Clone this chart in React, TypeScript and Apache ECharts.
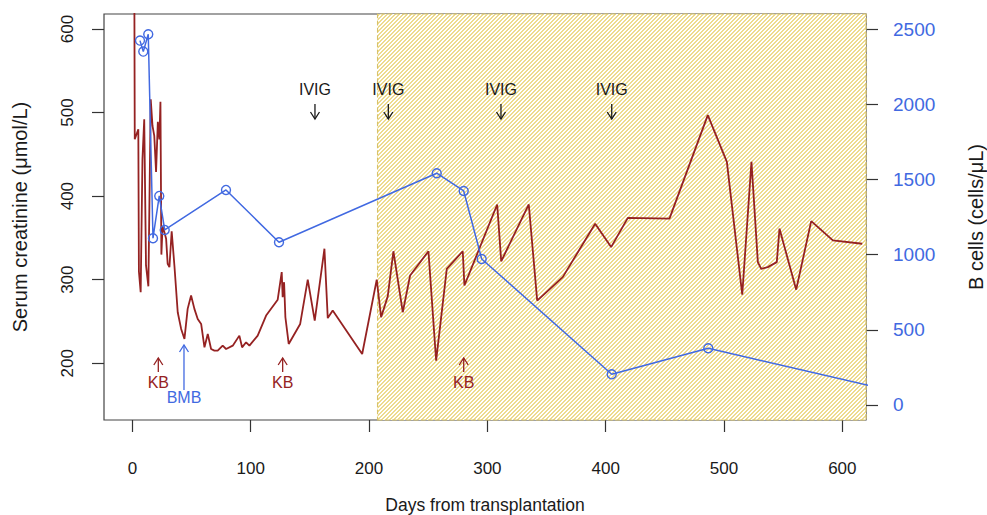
import React, { useEffect, useRef } from "react";
import * as echarts from "echarts";

// Serum creatinine (µmol/L) by day from transplantation
const creatinineDays = [1.5, 2, 5, 5.5, 7, 8.5, 10, 11.5, 13.5, 15.5, 17, 18.5, 20, 21.5, 22.8, 23.7, 24.5, 25.5, 27, 28.5, 29.8, 31.3, 33.2, 35.5, 38.3, 41.2, 44, 46.7, 49.6, 52.4, 55.2, 58.1, 60.9, 63.7, 66.5, 69.3, 72.1, 76.3, 79.2, 84.8, 90.4, 92.7, 96.1, 98.9, 105.9, 113, 122.8, 126.2, 127, 128.2, 129.3, 132.1, 141.8, 148.2, 154.1, 162.3, 165.1, 169.3, 194.2, 206.5, 210.2, 215.8, 220.6, 228.5, 234.7, 250.2, 256.7, 265.7, 279.2, 280.6, 308.3, 311.7, 335, 342.1, 363.7, 391.1, 404.6, 418.7, 453.9, 486.3, 502.4, 515.4, 523.2, 528.6, 531.4, 537, 544.6, 546.9, 561, 573.7, 592, 616.8];
const creatinineValues = [720, 468, 480, 310, 285, 444, 492, 317, 292, 516, 484, 472, 429, 489, 468, 513, 330, 364, 357, 349, 319, 315, 358, 317, 261, 241, 229, 265, 281, 265, 253, 247, 219, 235, 217, 215, 215, 221, 217, 221, 233, 219, 225, 221, 233, 257, 276, 309, 279, 297, 255, 223, 247, 300, 251, 337, 254, 263, 211, 300, 255, 280, 334, 261, 305, 334, 203, 313, 334, 293, 390, 322, 390, 275, 303, 367, 339, 374, 373, 497, 441, 282, 441, 321, 313, 315, 321, 361, 288, 370, 347, 343];

// B cells (cells/µL)
const bcellDays = [6.4, 9.2, 13.4, 17.4, 22.7, 27.3, 79.1, 123.9, 257.2, 280, 295.2, 405.1, 486.7, 650];
const bcellValues = [2423, 2350, 2465, 1109, 1390, 1164, 1430, 1082, 1541, 1423, 971, 204, 377, 80];

// Axis ticks
const xTicks = [0, 100, 200, 300, 400, 500, 600];
const leftTicks = [200, 300, 400, 500, 600];
const rightTicks = [0, 500, 1000, 1500, 2000, 2500];

// Events (days)
const ivigDays = [154.3, 216.3, 311.5, 405.1];
const kbDays = [21.9, 127, 280];
const bmbDays = [43.6];
const hatchStartDay = 207.2;

const RED = "#952222";
const BLUE = "#4169E1";
const INK = "#1a1a1a";
const SANS = '"Liberation Sans", Arial, sans-serif';

function makeHatch(): HTMLCanvasElement {
  const c = document.createElement("canvas");
  c.width = 4;
  c.height = 4;
  const ctx = c.getContext("2d")!;
  ctx.fillStyle = "#ffffff";
  ctx.fillRect(0, 0, 4, 4);
  ctx.fillStyle = "#eedb8e";
  for (let x = 0; x < 4; x++) {
    for (let y = 0; y < 4; y++) {
      if ((x + y) % 4 < 2) ctx.fillRect(x, y, 1, 1);
    }
  }
  return c;
}

export default function App() {
  const ref = useRef<HTMLDivElement>(null);

  useEffect(() => {
    document.body.style.margin = "0";
    const chart = echarts.init(ref.current!, undefined, { renderer: "svg" });

    const plain = (v: number) => String(v);
    const tickStyle = { color: "#333", width: 1.2 };

    const option: any = {
      animation: false,
      backgroundColor: "#ffffff",
      textStyle: { fontFamily: SANS },
      grid: {
        left: 104,
        right: 121,
        top: 14,
        bottom: 95,
        containLabel: false,
        outerBoundsMode: "none",
        show: true,
        borderColor: "#444",
        borderWidth: 1.2,
        backgroundColor: "#ffffff",
      },
      xAxis: {
        type: "value",
        position: "bottom",
        min: -24,
        max: 620,
        axisLine: { show: false, onZero: false },
        splitLine: { show: false },
        axisTick: { show: true, inside: false, customValues: xTicks, length: 12, lineStyle: tickStyle },
        axisLabel: { customValues: xTicks, formatter: plain, margin: 40, fontSize: 17, color: INK },
        name: "Days from transplantation",
        nameLocation: "middle",
        nameGap: 76,
        nameTextStyle: { fontSize: 17.5, color: INK },
      },
      yAxis: [
        {
          type: "value",
          position: "left",
          min: 132,
          max: 618,
          axisLine: { show: false, onZero: false },
          splitLine: { show: false },
          axisTick: { show: true, inside: false, customValues: leftTicks, length: 12, lineStyle: tickStyle },
          axisLabel: { customValues: leftTicks, formatter: plain, rotate: 90, margin: 28, fontSize: 17, color: INK },
          name: "Serum creatinine (μmol/L)",
          nameLocation: "middle",
          nameGap: 74,
          nameTextStyle: { fontSize: 20, color: INK },
        },
        {
          type: "value",
          position: "right",
          min: -100,
          max: 2600,
          axisLine: { show: false, onZero: false },
          splitLine: { show: false },
          axisTick: { show: true, inside: false, customValues: rightTicks, length: 12, lineStyle: tickStyle },
          axisLabel: { customValues: rightTicks, formatter: plain, margin: 27, fontSize: 19, color: BLUE },
          name: "B cells (cells/μL)",
          nameLocation: "middle",
          nameGap: 100,
          nameRotate: 90,
          nameTextStyle: { fontSize: 20, color: INK },
        },
      ],
      series: [
        {
          type: "line",
          name: "hatch",
          data: [],
          z: 1,
          silent: true,
          markArea: {
            silent: true,
            itemStyle: {
              color: { image: makeHatch(), repeat: "repeat" },
              borderColor: "#d8c36a",
              borderWidth: 1.2,
              borderType: "dashed",
            },
            data: [[{ xAxis: hatchStartDay }, { xAxis: 620 }]],
          },
        },
        {
          type: "line",
          name: "Serum creatinine",
          yAxisIndex: 0,
          z: 3,
          showSymbol: false,
          symbol: "none",
          clip: true,
          lineStyle: { color: RED, width: 1.8 },
          data: creatinineDays.map((d, i) => [d, creatinineValues[i]]),
        },
        {
          type: "line",
          name: "B cells",
          yAxisIndex: 1,
          z: 4,
          clip: true,
          symbol: "circle",
          symbolSize: 9,
          lineStyle: { color: BLUE, width: 1.5 },
          itemStyle: { color: "rgba(0,0,0,0)", borderColor: BLUE, borderWidth: 1.4 },
          data: bcellDays.map((d, i) => [d, bcellValues[i]]),
        },
      ],
    };
    chart.setOption(option);

    const px = (d: number, v: number) =>
      chart.convertToPixel({ xAxisIndex: 0, yAxisIndex: 0 }, [d, v]) as number[];

    const graphics: any[] = [];
    const addText = (x: number, y: number, text: string, color: string) => {
      graphics.push({
        type: "text",
        x,
        y,
        z: 10,
        style: {
          text,
          fill: color,
          font: `16px ${SANS}`,
          align: "center",
          verticalAlign: "middle",
          textAlign: "center",
          textVerticalAlign: "middle",
        },
      });
    };
    const addArrow = (x: number, yFrom: number, yTip: number, color: string) => {
      const dir = yTip > yFrom ? 1 : -1;
      graphics.push({
        type: "line",
        z: 10,
        shape: { x1: x, y1: yFrom, x2: x, y2: yTip },
        style: { stroke: color, lineWidth: 1.3 },
      });
      graphics.push({
        type: "polyline",
        z: 10,
        shape: { points: [[x - 4.5, yTip - dir * 7], [x, yTip], [x + 4.5, yTip - dir * 7]] },
        style: { stroke: color, lineWidth: 1.3, fill: null },
      });
    };

    ivigDays.forEach((d) => {
      const [x, yText] = px(d, 528);
      const [, y1] = px(d, 510.3);
      const [, y2] = px(d, 492.3);
      addText(x, yText, "IVIG", INK);
      addArrow(x, y1, y2, INK);
    });
    kbDays.forEach((d) => {
      const [x, yText] = px(d, 176.3);
      const [, y1] = px(d, 189.5);
      const [, y2] = px(d, 206.2);
      addText(x, yText, "KB", RED);
      addArrow(x, y1, y2, RED);
    });
    bmbDays.forEach((d) => {
      const [x, yText] = px(d, 159.5);
      const [, y1] = px(d, 167.9);
      const [, y2] = px(d, 221.8);
      addText(x, yText, "BMB", BLUE);
      addArrow(x, y1, y2, BLUE);
    });

    chart.setOption({ graphic: graphics });

    return () => chart.dispose();
  }, []);

  return (
    <div
      ref={ref}
      style={{ position: "fixed", left: 0, top: 0, width: 987, height: 515 }}
    />
  );
}
